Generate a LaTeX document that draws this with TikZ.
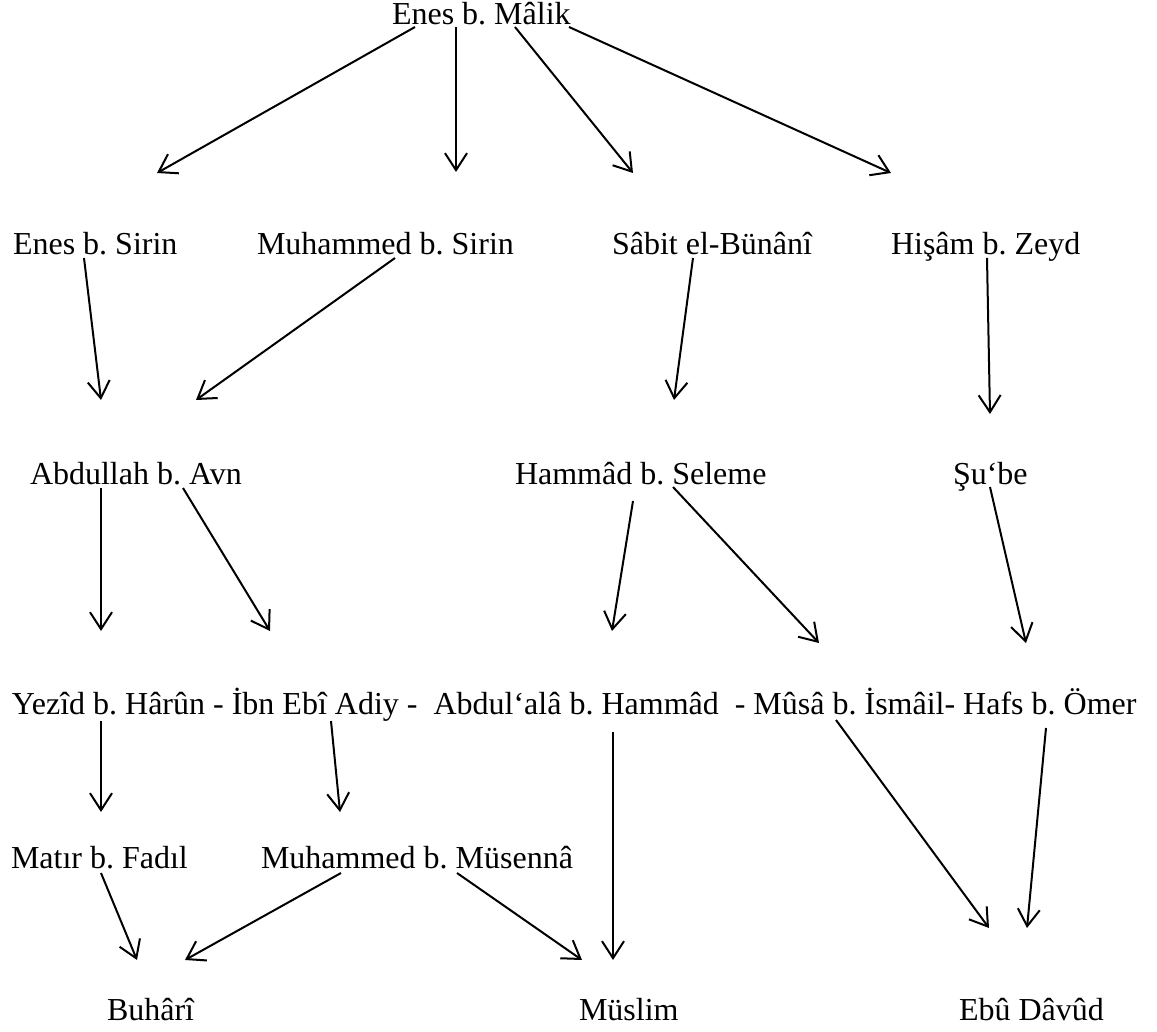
\documentclass[tikz,border=0pt]{standalone}
\usepackage{fontspec}
\setmainfont{Liberation Serif}
\usetikzlibrary{arrows.meta}
\tikzset{
  lbl/.style={inner sep=0pt, outer sep=0pt, anchor=base west, font=\fontsize{32}{38}\selectfont\frenchspacing, text=black},
  arr/.style={draw=black, line width=2pt, -{Straight Barb[length=17pt,width=22pt]}},
}
\begin{document}
\begin{tikzpicture}[x=1pt,y=-1pt]
\useasboundingbox[fill=white] (0,0) rectangle (1157,1032);

% ---- row 1
\node[lbl] (malik) at (392,25) {Enes b. Mâlik};
% ---- row 2
\node[lbl] (enes)  at (13,255)  {Enes b. Sirin};
\node[lbl] (muhs)  at (257,255) {Muhammed b. Sirin};
\node[lbl] (sabit) at (612,255) {Sâbit el-Bünânî};
\node[lbl] (hisam) at (891,255) {Hişâm b. Zeyd};
% ---- row 3
\node[lbl] (abd)   at (30,484)  {Abdullah b. Avn};
\node[lbl] (hammad) at (515,484) {Hammâd b. Seleme};
\node[lbl] (suba)  at (953,484) {Şu‘be};
% ---- row 4
\node[lbl] (yezid) at (12,714) {Yezîd b. Hârûn};
\node[lbl] (s1) at (yezid.base east) {\ -\ \null};
\node[lbl] (ibn) at (s1.base east) {İbn Ebî Adiy};
\node[lbl] (s2) at (ibn.base east) {\ -\ \ \null};
\node[lbl] (abdulala) at (s2.base east) {Abdul‘alâ b. Hammâd};
\node[lbl] (s3) at (abdulala.base east) {\ \ -\ \null};
\node[lbl] (musa) at (s3.base east) {Mûsâ b. İsmâil};
\node[lbl] (s4) at (musa.base east) {-\ \null};
\node[lbl] (hafs) at (s4.base east) {Hafs b. Ömer};
% ---- row 5
\node[lbl] (matir) at (11,868)  {Matır b. Fadıl};
\node[lbl] (muhm)  at (261,868) {Muhammed b. Müsennâ};
% ---- row 6
\node[lbl] (buhari) at (107,1020) {Buhârî};
\node[lbl] (muslim) at (579,1020) {Müslim};
\node[lbl] (ebu)    at (959,1020) {Ebû Dâvûd};

% ---- connector end points
\coordinate (m1) at (415,27);  \coordinate (enesT) at (157,173);
\coordinate (m2) at (456,27);  \coordinate (muhsT) at (456,172);
\coordinate (m3) at (515,27);  \coordinate (sabitT) at (633,173);
\coordinate (m4) at (569,27);  \coordinate (hisamT) at (891,173);

\coordinate (enesB) at (84,258);   \coordinate (abdT1) at (101,400);
\coordinate (muhsB) at (395,258);  \coordinate (abdT2) at (196,400);
\coordinate (sabitB) at (693,258); \coordinate (hammadT) at (674,400);
\coordinate (hisamB) at (987,258); \coordinate (subaT) at (990,414);

\coordinate (abdB1) at (101,488);  \coordinate (yezidT) at (101,631);
\coordinate (abdB2) at (183,488);  \coordinate (ibnT) at (270,631);
\coordinate (hammadB1) at (633,501); \coordinate (abdulalaT) at (612,631);
\coordinate (hammadB2) at (673,487); \coordinate (musaT) at (819,643);
\coordinate (subaB) at (990,487);  \coordinate (hafsT) at (1026,643);

\coordinate (yezidB) at (101,721); \coordinate (matirT) at (101,812);
\coordinate (ibnB) at (331,721);   \coordinate (muhmT) at (340,812);
\coordinate (abdulalaB) at (613,732); \coordinate (muslimT1) at (613,960);
\coordinate (musaB) at (836,720);  \coordinate (ebuT1) at (989,928);
\coordinate (hafsB) at (1046,728); \coordinate (ebuT2) at (1027,928);

\coordinate (matirB) at (101,873); \coordinate (buhariT1) at (137,960);
\coordinate (muhmB1) at (341,873); \coordinate (buhariT2) at (185,960);
\coordinate (muhmB2) at (457,873); \coordinate (muslimT2) at (582,960);

% ---- connectors
\draw[arr] (m1) -- (enesT);
\draw[arr] (m2) -- (muhsT);
\draw[arr] (m3) -- (sabitT);
\draw[arr] (m4) -- (hisamT);

\draw[arr] (enesB) -- (abdT1);
\draw[arr] (muhsB) -- (abdT2);
\draw[arr] (sabitB) -- (hammadT);
\draw[arr] (hisamB) -- (subaT);

\draw[arr] (abdB1) -- (yezidT);
\draw[arr] (abdB2) -- (ibnT);
\draw[arr] (hammadB1) -- (abdulalaT);
\draw[arr] (hammadB2) -- (musaT);
\draw[arr] (subaB) -- (hafsT);

\draw[arr] (yezidB) -- (matirT);
\draw[arr] (ibnB) -- (muhmT);
\draw[arr] (abdulalaB) -- (muslimT1);
\draw[arr] (musaB) -- (ebuT1);
\draw[arr] (hafsB) -- (ebuT2);

\draw[arr] (matirB) -- (buhariT1);
\draw[arr] (muhmB1) -- (buhariT2);
\draw[arr] (muhmB2) -- (muslimT2);
\end{tikzpicture}
\end{document}
